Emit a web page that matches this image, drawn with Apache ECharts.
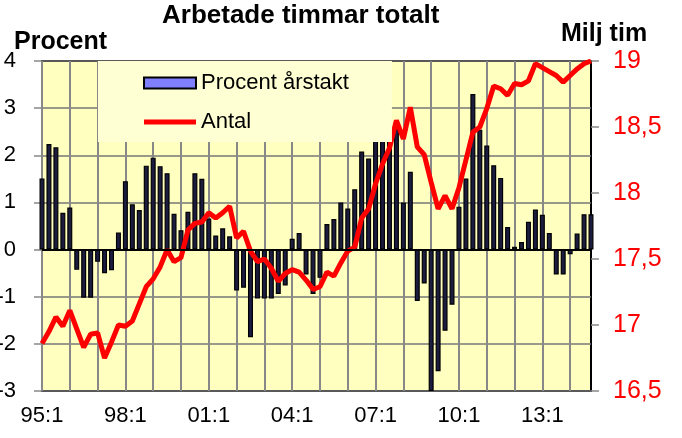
<!DOCTYPE html>
<html>
<head>
<meta charset="utf-8">
<script src="https://cdn.jsdelivr.net/npm/echarts@6/dist/echarts.min.js"></script>
<style>
  html, body { margin: 0; padding: 0; background: #fff; }
  #chart { width: 682px; height: 438px; }
</style>
</head>
<body>
<div id="chart"></div>
<script>
  // kvartal 95:1 - 14:4
  var years = ['95','96','97','98','99','00','01','02','03','04','05','06','07','08','09','10','11','12','13','14'];
  var categories = [];
  years.forEach(function (y) {
    for (var q = 1; q <= 4; q++) categories.push(y + ':' + q);
  });

  // Procent årstakt (vänster axel)
  var procent = [
    1.51, 2.24, 2.17, 0.78, 0.89, -0.43, -1.02, -1.02, -0.26, -0.5,
    -0.44, 0.36, 1.45, 0.96, 0.84, 1.78, 1.95, 1.77, 1.62, 0.76,
    0.41, 0.8, 1.62, 1.5, 0.66, 0.3, 0.45, 0.28, -0.87, -0.81,
    -1.86, -1.04, -1.04, -1.04, -0.94, -0.76, 0.23, 0.35, -0.53, -0.94,
    -0.6, 0.54, 0.65, 1.0, 0.87, 1.28, 2.08, 1.93, 2.4, 2.4,
    2.5, 2.57, 1.0, 1.65, -1.09, -0.72, -3.0, -2.58, -1.72, -1.17,
    0.91, 1.51, 3.3, 2.54, 2.21, 1.79, 1.52, 0.48, 0.06, 0.16,
    0.59, 0.85, 0.74, 0.35, -0.53, -0.53, -0.1, 0.34, 0.75, 0.75
  ];

  // Antal, miljoner timmar (höger axel)
  var antal = [
    16.86, 16.95, 17.06, 16.99, 17.11, 16.97, 16.83, 16.93, 16.94, 16.75,
    16.87, 17.0, 16.99, 17.03, 17.16, 17.29, 17.35, 17.44, 17.57, 17.48,
    17.51, 17.72, 17.77, 17.78, 17.85, 17.81, 17.85, 17.9, 17.66, 17.71,
    17.56, 17.48, 17.5, 17.43, 17.33, 17.39, 17.42, 17.4, 17.34, 17.27,
    17.29, 17.4, 17.37, 17.47, 17.56, 17.59, 17.81, 17.88, 18.07, 18.22,
    18.34, 18.55, 18.41, 18.65, 18.35, 18.29, 18.08, 17.88, 17.98, 17.88,
    18.04, 18.25, 18.46, 18.5, 18.64, 18.81, 18.79, 18.74, 18.83, 18.82,
    18.85, 18.98, 18.95, 18.92, 18.89, 18.84, 18.89, 18.94, 18.98, 19.0
  ];

  var font = 'Liberation Sans, Arial, sans-serif';

  var chart = echarts.init(document.getElementById('chart'));
  var option = {
    animation: false,
    textStyle: { fontFamily: font },
    title: [
      { text: 'Arbetade timmar totalt', left: 162, top: 3, padding: 0,
        textStyle: { fontSize: 26, fontWeight: 'bold', color: '#000', fontFamily: font } },
      { text: 'Procent', left: 14, top: 30, padding: 0,
        textStyle: { fontSize: 25, fontWeight: 'bold', color: '#000', fontFamily: font } },
      { text: 'Milj tim', left: 561, top: 22, padding: 0,
        textStyle: { fontSize: 25, fontWeight: 'bold', color: '#000', fontFamily: font } }
    ],
    legend: {
      orient: 'vertical',
      left: 98,
      top: 61,
      padding: [11, 43, 9, 45],
      itemWidth: 52,
      itemHeight: 11,
      itemGap: 17,
      backgroundColor: '#ffffd4',
      textStyle: { fontSize: 22, color: '#000', lineHeight: 22, fontFamily: font },
      data: [
        { name: 'Procent årstakt', icon: 'rect',
          itemStyle: { color: '#8080ff', borderColor: '#000', borderWidth: 2 } },
        { name: 'Antal', icon: 'path://M0,0 L52,0 L52,5 L0,5 Z',
          itemStyle: { color: '#ff0000', borderWidth: 0 } }
      ]
    },
    grid: {
      left: 42, right: 91, top: 61, bottom: 47,
      outerBoundsMode: 'none',
      containLabel: false,
      show: true,
      backgroundColor: '#ffffc0',
      borderColor: '#000',
      borderWidth: 2
    },
    xAxis: {
      type: 'category',
      data: categories,
      boundaryGap: false,
      axisLine: { show: false },
      axisTick: { show: false },
      axisLabel: {
        interval: function (i) { return i % 12 === 0; },
        fontSize: 22, color: '#000', margin: 14
      },
      splitLine: {
        show: true,
        interval: function (i) { return i % 4 === 0; },
        lineStyle: { color: '#888', width: 2 }
      }
    },
    yAxis: [
      {
        type: 'value',
        min: -3, max: 4, interval: 1,
        axisLine: { show: false },
        axisTick: { show: true, length: 8, lineStyle: { color: '#888', width: 1.5 } },
        axisLabel: { fontSize: 22, color: '#000', margin: 26 },
        splitLine: { lineStyle: { color: '#777', width: 1.5 } }
      },
      {
        type: 'value',
        min: 16.5, max: 19, interval: 0.5,
        position: 'right',
        axisLine: { show: false },
        axisTick: { show: true, length: 8, lineStyle: { color: '#888', width: 1.5 } },
        axisLabel: {
          fontSize: 25, color: '#ff0000', margin: 22,
          formatter: function (v) { return String(v).replace('.', ','); }
        },
        splitLine: { show: false }
      }
    ],
    series: [
      {
        name: 'Procent årstakt',
        type: 'bar',
        data: procent,
        barWidth: 5,
        itemStyle: { color: '#1c1c40', borderColor: '#000', borderWidth: 1.2 },
        markLine: {
          silent: true,
          symbol: 'none',
          label: { show: false },
          lineStyle: { color: '#000', type: 'solid', width: 2 },
          data: [{ yAxis: 0 }]
        }
      },
      {
        name: 'Antal',
        type: 'line',
        yAxisIndex: 1,
        data: antal,
        symbol: 'none',
        lineStyle: { color: '#ff0000', width: 5 },
        itemStyle: { color: '#ff0000' },
        z: 3
      }
    ]
  };
  chart.setOption(option);
</script>
</body>
</html>
